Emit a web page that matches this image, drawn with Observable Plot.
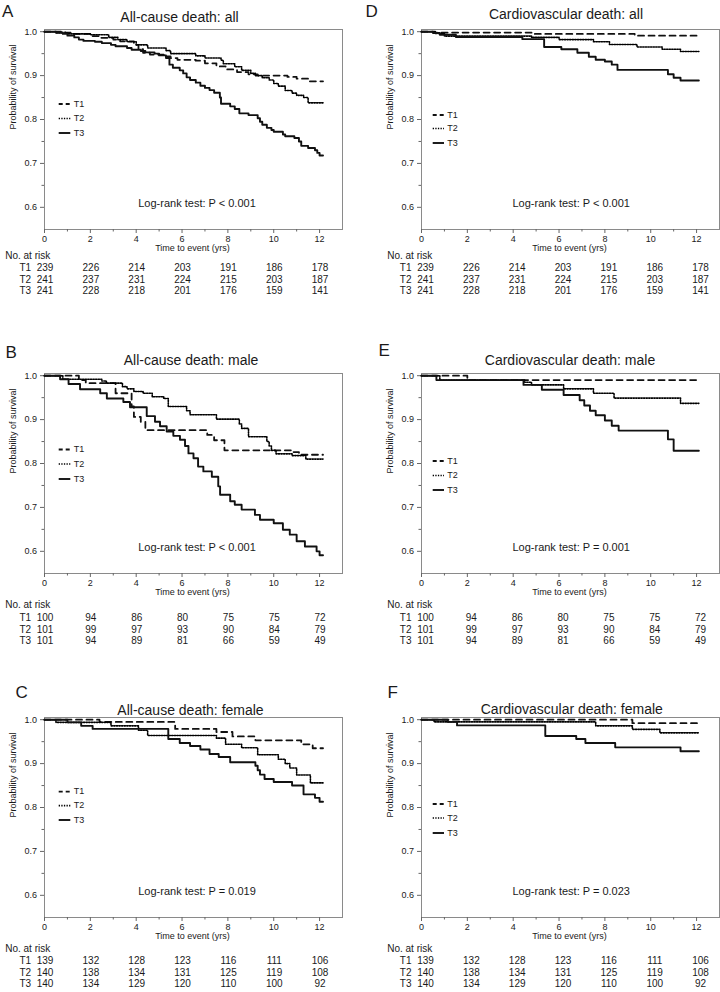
<!DOCTYPE html>
<html><head><meta charset="utf-8">
<script src="https://cdn.jsdelivr.net/npm/d3@7"></script>
<script src="https://cdn.jsdelivr.net/npm/@observablehq/plot@0.6"></script>
<style>
html,body{margin:0;padding:0;background:#fff;}
#root{position:relative;width:720px;height:992px;overflow:hidden;font-family:"Liberation Sans",Arial,Helvetica,sans-serif;}
.panel{position:absolute;}
</style></head><body><div id="root"></div>
<script>
// ---------- data ----------
const groups = ["T1", "T2", "T3"];
const riskTimes = [0, 2, 4, 6, 8, 10, 12];
const xMajorTicks = [0, 2, 4, 6, 8, 10, 12];
const xMinorTicks = [1, 3, 5, 7, 9, 11];
const yMajorTicks = [0.6, 0.7, 0.8, 0.9, 1.0];
const yMinorTicks = [0.65, 0.75, 0.85, 0.95];

const riskAllT1 = [239, 226, 214, 203, 191, 186, 178];
const riskAllT2 = [241, 237, 231, 224, 215, 203, 187];
const riskAllT3 = [241, 228, 218, 201, 176, 159, 141];
const riskMaleT1 = [100, 94, 86, 80, 75, 75, 72];
const riskMaleT2 = [101, 99, 97, 93, 90, 84, 79];
const riskMaleT3 = [101, 94, 89, 81, 66, 59, 49];
const riskFemaleT1 = [139, 132, 128, 123, 116, 111, 106];
const riskFemaleT2 = [140, 138, 134, 131, 125, 119, 108];
const riskFemaleT3 = [140, 134, 129, 120, 110, 100, 92];

// Kaplan-Meier curves [time (yrs), survival]
const kmAcAllT1 = [[0,1],[0.9,0.998],[1.2,0.995],[2.0,0.99],[2.4,0.986],[3.0,0.982],[3.3,0.978],[3.9,0.97],[4.1,0.96],[4.3,0.952],[4.6,0.948],[5.2,0.944],[5.5,0.94],[5.8,0.936],[6.6,0.934],[7.0,0.928],[7.5,0.921],[7.9,0.914],[8.4,0.908],[8.9,0.903],[9.3,0.9],[10.6,0.897],[11.0,0.893],[11.5,0.887],[12.15,0.887]];
const kmAcAllT2 = [[0,1],[0.5,0.997],[1.0,0.995],[2.0,0.993],[2.8,0.987],[3.2,0.982],[3.6,0.977],[4.0,0.97],[4.5,0.963],[5.3,0.957],[5.5,0.95],[6.6,0.945],[7.0,0.94],[7.7,0.935],[7.8,0.927],[8.3,0.92],[8.6,0.912],[9.0,0.905],[9.2,0.9],[9.5,0.895],[9.8,0.89],[10.0,0.882],[10.2,0.876],[10.5,0.866],[10.8,0.86],[11.0,0.855],[11.3,0.85],[11.5,0.838],[12.15,0.838]];
const kmAcAllT3 = [[0,1],[0.5,0.998],[0.8,0.995],[1.0,0.991],[1.3,0.987],[1.5,0.982],[1.7,0.979],[2.2,0.977],[2.5,0.974],[2.9,0.97],[3.1,0.967],[3.6,0.963],[3.8,0.959],[4.2,0.956],[4.4,0.953],[4.8,0.95],[5.0,0.946],[5.3,0.94],[5.45,0.925],[5.6,0.918],[5.9,0.912],[6.05,0.905],[6.2,0.896],[6.35,0.89],[6.6,0.884],[6.8,0.877],[7.0,0.872],[7.2,0.867],[7.4,0.861],[7.65,0.85],[7.7,0.836],[8.1,0.83],[8.3,0.824],[8.5,0.814],[8.9,0.81],[9.3,0.803],[9.4,0.795],[9.5,0.788],[9.7,0.781],[9.9,0.776],[10.0,0.772],[10.4,0.766],[10.5,0.762],[10.9,0.758],[11.1,0.75],[11.2,0.74],[11.5,0.735],[11.8,0.73],[11.9,0.724],[12.0,0.718],[12.15,0.718]];

const kmAcMaleT1 = [[0,1],[1.5,0.99],[1.8,0.983],[3.1,0.96],[3.8,0.93],[3.9,0.906],[4.2,0.895],[4.4,0.876],[7.1,0.865],[7.4,0.853],[7.85,0.83],[10.8,0.826],[11.1,0.82],[12.15,0.82]];
const kmAcMaleT2 = [[0,1],[0.8,0.992],[2.5,0.988],[2.7,0.983],[3.4,0.975],[3.6,0.97],[3.9,0.964],[4.3,0.96],[4.7,0.952],[5.2,0.948],[5.4,0.93],[6.2,0.92],[6.35,0.911],[7.5,0.901],[8.5,0.89],[8.6,0.88],[8.9,0.861],[9.7,0.85],[9.8,0.84],[9.9,0.83],[10.1,0.822],[10.8,0.818],[11.4,0.81],[12.15,0.81]];
const kmAcMaleT3 = [[0,1],[0.68,0.992],[1.05,0.981],[1.55,0.969],[2.43,0.96],[2.72,0.948],[3.44,0.94],[3.73,0.928],[4.46,0.908],[4.82,0.895],[5.04,0.885],[5.33,0.873],[5.62,0.863],[5.91,0.854],[6.13,0.84],[6.28,0.823],[6.5,0.812],[6.7,0.793],[6.93,0.782],[7.3,0.77],[7.58,0.748],[7.66,0.729],[8.1,0.714],[8.3,0.706],[8.6,0.695],[9.18,0.683],[9.4,0.672],[10.0,0.664],[10.4,0.649],[10.7,0.638],[11.0,0.623],[11.36,0.611],[11.87,0.6],[12.0,0.591],[12.15,0.591]];

const kmAcFemaleT1 = [[0,1],[2.4,0.995],[5.7,0.979],[7.5,0.972],[8.2,0.962],[9.2,0.953],[11.2,0.944],[11.7,0.935],[12.15,0.935]];
const kmAcFemaleT2 = [[0,1],[0.5,0.994],[2.9,0.986],[4.1,0.976],[4.5,0.964],[7.5,0.958],[7.9,0.944],[8.6,0.936],[9.3,0.92],[10.2,0.91],[10.5,0.9],[10.7,0.89],[11.0,0.874],[11.6,0.856],[12.15,0.856]];
const kmAcFemaleT3 = [[0,1],[1.0,0.994],[1.6,0.986],[2.1,0.979],[5.4,0.956],[5.9,0.947],[6.35,0.94],[6.8,0.932],[7.2,0.922],[7.6,0.915],[8.1,0.903],[9.2,0.895],[9.3,0.885],[9.4,0.875],[9.6,0.865],[10.0,0.858],[10.8,0.85],[11.3,0.83],[11.8,0.822],[12.0,0.813],[12.15,0.813]];

const kmCvAllT1 = [[0,1],[0.6,0.998],[4.8,0.995],[9.3,0.991],[12.1,0.991]];
const kmCvAllT2 = [[0,1],[0.6,0.996],[1.0,0.99],[4.8,0.987],[6.0,0.982],[7.5,0.977],[8.2,0.971],[9.4,0.965],[10.5,0.96],[11.3,0.955],[12.1,0.955]];
const kmCvAllT3 = [[0,1],[0.5,0.997],[0.8,0.993],[1.5,0.988],[4.4,0.983],[5.35,0.965],[6.1,0.96],[6.8,0.952],[7.3,0.943],[7.6,0.936],[8.0,0.932],[8.3,0.925],[8.55,0.913],[10.75,0.903],[11.0,0.895],[11.3,0.889],[12.1,0.889]];

const kmCvMaleT1 = [[0,1],[2.0,0.99],[12.1,0.99]];
const kmCvMaleT2 = [[0,1],[0.8,0.99],[4.5,0.985],[4.8,0.979],[6.2,0.97],[7.5,0.96],[8.4,0.949],[11.3,0.937],[12.1,0.937]];
const kmCvMaleT3 = [[0,1],[0.65,0.99],[4.45,0.979],[5.25,0.968],[6.2,0.956],[6.9,0.944],[7.1,0.932],[7.35,0.92],[7.6,0.91],[8.0,0.898],[8.3,0.886],[8.6,0.875],[10.75,0.855],[11.0,0.829],[12.1,0.829]];

const kmCvFemaleT1 = [[0,1],[9.2,0.992],[12.1,0.992]];
const kmCvFemaleT2 = [[0,1],[0.55,0.995],[7.6,0.986],[9.2,0.978],[10.4,0.97],[12.1,0.97]];
const kmCvFemaleT3 = [[0,1],[1.15,0.995],[1.55,0.987],[5.4,0.963],[6.75,0.956],[7.15,0.947],[8.45,0.937],[11.3,0.928],[12.1,0.928]];

const panelLetters = ["A", "B", "C", "D", "E", "F"];
const panelTitles = ["All-cause death: all", "All-cause death: male", "All-cause death: female",
  "Cardiovascular death: all", "Cardiovascular death: male", "Cardiovascular death: female"];
const logRankTexts = ["Log-rank test: P < 0.001", "Log-rank test: P < 0.001", "Log-rank test: P = 0.019",
  "Log-rank test: P < 0.001", "Log-rank test: P = 0.001", "Log-rank test: P = 0.023"];
const panelCurves = [
  [kmAcAllT1, kmAcAllT2, kmAcAllT3], [kmAcMaleT1, kmAcMaleT2, kmAcMaleT3], [kmAcFemaleT1, kmAcFemaleT2, kmAcFemaleT3],
  [kmCvAllT1, kmCvAllT2, kmCvAllT3], [kmCvMaleT1, kmCvMaleT2, kmCvMaleT3], [kmCvFemaleT1, kmCvFemaleT2, kmCvFemaleT3]];
const panelRisk = [
  [riskAllT1, riskAllT2, riskAllT3], [riskMaleT1, riskMaleT2, riskMaleT3], [riskFemaleT1, riskFemaleT2, riskFemaleT3],
  [riskAllT1, riskAllT2, riskAllT3], [riskMaleT1, riskMaleT2, riskMaleT3], [riskFemaleT1, riskFemaleT2, riskFemaleT3]];

// ---------- layout (styling only) ----------
const layout = [
  {left: 0,   top: 0,   ml: 44, letterDx: -42.5, letterDy: -12.5, titleDx: -14, titleDy: -7.5, tab: [29.6, 41.3, 53.6, 64.3], legDy: [75, 89.5, 104]},
  {left: 0,   top: 344, ml: 44, letterDx: -39,   letterDy: -16,   titleDx: -2.5, titleDy: -8.5, tab: [34.3, 47, 59.3, 70.3], legDy: [76.5, 91, 106]},
  {left: 0,   top: 688, ml: 44, letterDx: -29,   letterDy: -20,   titleDx: -3, titleDy: -2.5, tab: [34.3, 46, 58.3, 69.3], legDy: [74.6, 88.6, 103]},
  {left: 360, top: 0,   ml: 61, letterDx: -56,   letterDy: -12.5, titleDx: -4.5, titleDy: -11, tab: [29.6, 41.3, 53.6, 64.3], legDy: [86, 99.5, 114]},
  {left: 360, top: 344, ml: 61, letterDx: -43,   letterDy: -17.5, titleDx: -0.5, titleDy: -8.5, tab: [34.3, 47, 59.3, 70.3], legDy: [88, 102.5, 117]},
  {left: 360, top: 688, ml: 61, letterDx: -34,   letterDy: -20,   titleDx: 1.3, titleDy: -4, tab: [34.3, 46, 58.3, 69.3], legDy: [87, 101, 116]}
];
const lineStyles = [
  {stroke: "#111", strokeWidth: 1.8, strokeDasharray: "6,4.5", legDash: "4,3"},
  {stroke: "#000", strokeWidth: 1.6, strokeDasharray: "1.3,1.3", legDash: "1.3,1.3"},
  {stroke: "#111", strokeWidth: 1.9, strokeDasharray: null, legDash: null}
];
const FONT = '"Liberation Sans", Arial, Helvetica, sans-serif';
const MT = 29, FRAME_H = 200, MB = 75, FRAME_W = 298;

const root = document.getElementById("root");

panelLetters.forEach((letter, p) => {
  const L = layout[p];
  const leftCol = L.left === 0;
  const mr = 360 - L.ml - FRAME_W;
  const curveMarks = panelCurves[p].map((curve, g) => {
    const s = lineStyles[g];
    const opts = {x: d => d[0], y: d => d[1], curve: "step-after", stroke: s.stroke, strokeWidth: s.strokeWidth};
    if (s.strokeDasharray) opts.strokeDasharray = s.strokeDasharray;
    return Plot.line(curve, opts);
  });
  const riskMarks = [];
  riskMarks.push(Plot.text(["No. at risk"], {text: d => d, frameAnchor: "bottom-left", textAnchor: "start",
    dx: leftCol ? -39.3 : -34.3, dy: L.tab[0], fontSize: 10}));
  panelRisk[p].forEach((arr, g) => {
    riskMarks.push(Plot.text([groups[g]], {text: d => d, frameAnchor: "bottom-left", textAnchor: "start",
      dx: leftCol ? -25 : -21.7, dy: L.tab[g + 1], fontSize: 10}));
    riskMarks.push(Plot.text(riskTimes.map((t, i) => ({t, n: arr[i]})), {x: "t", text: d => String(d.n),
      frameAnchor: "bottom", dy: L.tab[g + 1], dx: leftCol ? 0.5 : 4, fontSize: 10}));
  });

  const svg = Plot.plot({
    width: 360, height: MT + FRAME_H + MB,
    marginLeft: L.ml, marginRight: mr, marginTop: MT, marginBottom: MB,
    style: {fontFamily: FONT, fontSize: "9px", color: "#1a1a1a", background: "transparent", overflow: "visible"},
    x: {domain: [0, 13]},
    y: {domain: [0.5495, 1.005]},
    marks: [
      Plot.frame({stroke: "#8a8a8a"}),
      Plot.axisX({ticks: xMajorTicks, tickSize: 4, tickPadding: 2.3, fontSize: 9, label: null, stroke: "#666"}),
      Plot.axisX({ticks: xMinorTicks, tickSize: 2.5, tickFormat: () => "", label: null, stroke: "#666"}),
      Plot.axisY({ticks: yMajorTicks, tickFormat: d3.format(".1f"), tickSize: 4, tickPadding: 3.6, fontSize: 9, label: null, stroke: "#666"}),
      Plot.axisY({ticks: yMinorTicks, tickSize: 2.5, tickFormat: () => "", label: null, stroke: "#666"}),
      ...curveMarks,
      Plot.text([logRankTexts[p]], {text: d => d, frameAnchor: "bottom", dx: leftCol ? 3.5 : 0.7, dy: -22.5, fontSize: 11}),
      Plot.text(["Time to event (yrs)"], {text: d => d, frameAnchor: "bottom", dy: 21.2, dx: -1, fontSize: 9}),
      Plot.text(["Probability of survival"], {text: d => d, frameAnchor: "left", dx: -31, rotate: -90, fontSize: 9}),
      Plot.text([panelTitles[p]], {text: d => d, frameAnchor: "top", dx: L.titleDx, dy: L.titleDy, lineAnchor: "bottom", fontSize: 14}),
      Plot.text([letter], {text: d => d, frameAnchor: "top-left", textAnchor: "start", dx: L.letterDx, dy: L.letterDy, lineAnchor: "bottom", fontSize: 17}),
      ...riskMarks
    ]
  });

  // legend (inside frame, top-left)
  const sel = d3.select(svg);
  const lg = sel.append("g").attr("font-size", 9).attr("fill", "#1a1a1a")
    .attr("font-family", FONT).attr("text-anchor", "start");
  const x1 = L.ml + (leftCol ? 14.7 : 11.7);
  const x2 = L.ml + (leftCol ? 26.3 : 23);
  const tx = L.ml + (leftCol ? 29.7 : 26.3);
  groups.forEach((name, g) => {
    const y = MT + L.legDy[g];
    const s = lineStyles[g];
    const ln = lg.append("line").attr("x1", x1).attr("x2", x2).attr("y1", y).attr("y2", y)
      .attr("stroke", s.stroke).attr("stroke-width", s.strokeWidth);
    if (s.legDash) ln.attr("stroke-dasharray", s.legDash);
    lg.append("text").attr("x", tx).attr("y", y).attr("dy", "0.32em").attr("text-anchor", "start").text(name);
  });

  const div = document.createElement("div");
  div.className = "panel";
  div.style.left = L.left + "px";
  div.style.top = L.top + "px";
  div.appendChild(svg);
  root.appendChild(div);
});
</script>
</body></html>
